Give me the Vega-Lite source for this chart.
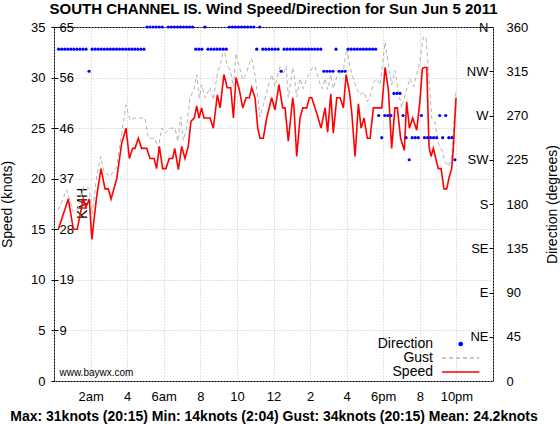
{
  "$schema": "https://vega.github.io/schema/vega-lite/v6.json",
  "width": 439,
  "height": 354,
  "autosize": {"type": "none"},
  "padding": {"left": 54, "top": 27, "right": 67, "bottom": 43},
  "background": "#ffffff",
  "title": {"text": "SOUTH CHANNEL IS. Wind Speed/Direction for Sun Jun 5 2011", "font": "Liberation Sans", "fontSize": 15, "fontWeight": "bold", "color": "#000000", "anchor": "middle", "frame": "group", "offset": 4},
  "config": {
    "view": {"stroke": "#000000", "strokeWidth": 1},
    "font": "Liberation Sans",
    "axis": {"domain": false, "labelFont": "Liberation Sans", "labelFontSize": 13, "labelColor": "#000000", "tickColor": "#000000", "titleFont": "Liberation Sans", "titleFontSize": 14, "titleFontWeight": "normal", "titleColor": "#000000", "gridColor": "#c4c4c4", "gridDash": [1, 2], "gridWidth": 1},
    "axisX": {"values": [1,2,3,4,5,6,7,8,9,10,11,12,13,14,15,16,17,18,19,20,21,22,23], "grid": true, "ticks": false, "labelPadding": 9, "labelFlush": false, "labelOverlap": false, "labelAngle": 0, "titleFontWeight": "bold", "titleFontSize": 14, "titlePadding": 6}
  },
  "datasets": {
    "speed": [
      {"h":0.24,"kt":15},{"h":0.78,"kt":18},{"h":1.06,"kt":15},{"h":1.27,"kt":15},{"h":1.6,"kt":18},{"h":1.75,"kt":17.2},{"h":1.93,"kt":18},{"h":2.07,"kt":14},{"h":2.33,"kt":18.2},{"h":2.57,"kt":21},{"h":2.79,"kt":19},{"h":2.97,"kt":19},{"h":3.12,"kt":18},{"h":3.43,"kt":20},{"h":3.7,"kt":23.5},{"h":3.94,"kt":25},{"h":4.12,"kt":22},{"h":4.3,"kt":23},{"h":4.43,"kt":23},{"h":4.61,"kt":24},{"h":4.79,"kt":23},{"h":5.07,"kt":23},{"h":5.25,"kt":22},{"h":5.47,"kt":22},{"h":5.61,"kt":21},{"h":5.76,"kt":23.2},{"h":5.94,"kt":21},{"h":6.12,"kt":21},{"h":6.3,"kt":22},{"h":6.49,"kt":22},{"h":6.6,"kt":23},{"h":6.8,"kt":20.9},{"h":6.98,"kt":23.2},{"h":7.16,"kt":22},{"h":7.34,"kt":23.2},{"h":7.49,"kt":25.7},{"h":7.67,"kt":26},{"h":7.8,"kt":27.2},{"h":7.93,"kt":26},{"h":8.07,"kt":27},{"h":8.2,"kt":26},{"h":8.53,"kt":26},{"h":8.71,"kt":25},{"h":8.93,"kt":28.3},{"h":9.08,"kt":27},{"h":9.29,"kt":30.3},{"h":9.47,"kt":29},{"h":9.66,"kt":29},{"h":9.81,"kt":26},{"h":9.95,"kt":30},{"h":10.13,"kt":28.8},{"h":10.32,"kt":27},{"h":10.5,"kt":28},{"h":10.68,"kt":28},{"h":10.81,"kt":29},{"h":10.99,"kt":28},{"h":11.14,"kt":25},{"h":11.26,"kt":24},{"h":11.44,"kt":24},{"h":11.63,"kt":26},{"h":11.9,"kt":28},{"h":12.08,"kt":26.8},{"h":12.3,"kt":29.3},{"h":12.5,"kt":27},{"h":12.63,"kt":27},{"h":12.81,"kt":23.7},{"h":13.05,"kt":28},{"h":13.12,"kt":27},{"h":13.27,"kt":22.2},{"h":13.45,"kt":26},{"h":13.6,"kt":27},{"h":13.82,"kt":27},{"h":13.96,"kt":28},{"h":14.09,"kt":28},{"h":14.36,"kt":26.5},{"h":14.6,"kt":25},{"h":14.82,"kt":27},{"h":14.96,"kt":24.6},{"h":15.13,"kt":28.4},{"h":15.27,"kt":24.5},{"h":15.46,"kt":28},{"h":15.64,"kt":28},{"h":15.82,"kt":27},{"h":15.97,"kt":30.3},{"h":16.15,"kt":28.6},{"h":16.28,"kt":26.5},{"h":16.46,"kt":22.2},{"h":16.64,"kt":27.4},{"h":16.79,"kt":25},{"h":16.95,"kt":26},{"h":17.13,"kt":24},{"h":17.28,"kt":24},{"h":17.46,"kt":27},{"h":17.92,"kt":27},{"h":18.1,"kt":31},{"h":18.28,"kt":28.8},{"h":18.46,"kt":23},{"h":18.64,"kt":27},{"h":18.77,"kt":27},{"h":18.95,"kt":24},{"h":19.15,"kt":22.8},{"h":19.28,"kt":27.6},{"h":19.43,"kt":25},{"h":19.61,"kt":26},{"h":19.83,"kt":24.8},{"h":20.01,"kt":27.8},{"h":20.14,"kt":30.9},{"h":20.25,"kt":31},{"h":20.38,"kt":31},{"h":20.5,"kt":23.2},{"h":20.61,"kt":22.2},{"h":20.74,"kt":23},{"h":20.87,"kt":22},{"h":21.01,"kt":21},{"h":21.16,"kt":21},{"h":21.32,"kt":19},{"h":21.47,"kt":19},{"h":21.61,"kt":20.2},{"h":21.74,"kt":21},{"h":21.83,"kt":23},{"h":21.98,"kt":28}
    ],
    "gust": [
      {"h":0.24,"kt":16.9},{"h":0.69,"kt":18.9},{"h":1.06,"kt":16.7},{"h":1.33,"kt":17.1},{"h":1.6,"kt":19.2},{"h":1.82,"kt":19.2},{"h":1.93,"kt":19},{"h":2.09,"kt":16.5},{"h":2.33,"kt":20.2},{"h":2.55,"kt":22.2},{"h":2.73,"kt":20.7},{"h":3.06,"kt":20.2},{"h":3.43,"kt":21.2},{"h":3.7,"kt":24.5},{"h":3.94,"kt":27.3},{"h":4.16,"kt":25.8},{"h":4.43,"kt":26},{"h":4.98,"kt":26},{"h":5.16,"kt":24},{"h":5.52,"kt":24},{"h":5.7,"kt":23},{"h":5.89,"kt":25},{"h":6.07,"kt":24.5},{"h":6.34,"kt":25},{"h":6.62,"kt":25},{"h":6.76,"kt":23.7},{"h":6.93,"kt":26.1},{"h":7.07,"kt":23.8},{"h":7.25,"kt":25},{"h":7.43,"kt":28},{"h":7.65,"kt":28.8},{"h":7.8,"kt":30.3},{"h":7.95,"kt":28},{"h":8.07,"kt":29.3},{"h":8.26,"kt":28},{"h":8.53,"kt":29},{"h":8.71,"kt":27.8},{"h":8.93,"kt":30.4},{"h":9.11,"kt":31.4},{"h":9.29,"kt":32.9},{"h":9.47,"kt":31.2},{"h":9.66,"kt":30.6},{"h":9.81,"kt":29.1},{"h":9.95,"kt":32.4},{"h":10.13,"kt":31.1},{"h":10.32,"kt":29.8},{"h":10.5,"kt":30.3},{"h":10.68,"kt":31.4},{"h":10.81,"kt":31.9},{"h":10.99,"kt":30.3},{"h":11.14,"kt":28},{"h":11.26,"kt":26.1},{"h":11.44,"kt":27.3},{"h":11.63,"kt":28.6},{"h":11.9,"kt":30.3},{"h":12.08,"kt":29.1},{"h":12.36,"kt":31.1},{"h":12.54,"kt":30.3},{"h":12.69,"kt":31.1},{"h":12.81,"kt":28},{"h":13.05,"kt":31},{"h":13.12,"kt":30.3},{"h":13.27,"kt":28.1},{"h":13.45,"kt":29.9},{"h":13.63,"kt":28.9},{"h":13.82,"kt":29.9},{"h":14.09,"kt":30.9},{"h":14.27,"kt":31.1},{"h":14.45,"kt":29.9},{"h":14.64,"kt":28.9},{"h":14.82,"kt":29.9},{"h":14.96,"kt":28.8},{"h":15.13,"kt":30.3},{"h":15.27,"kt":28.9},{"h":15.46,"kt":30.1},{"h":15.64,"kt":30.4},{"h":15.82,"kt":30.7},{"h":16,"kt":32.9},{"h":16.18,"kt":31.1},{"h":16.36,"kt":29.9},{"h":16.55,"kt":28.9},{"h":16.73,"kt":28.3},{"h":16.95,"kt":28.6},{"h":17.13,"kt":27.6},{"h":17.31,"kt":28.3},{"h":17.46,"kt":29.5},{"h":17.64,"kt":29.9},{"h":17.83,"kt":29.3},{"h":18.1,"kt":33.5},{"h":18.28,"kt":31.4},{"h":18.46,"kt":29.3},{"h":18.64,"kt":30.7},{"h":18.83,"kt":28.6},{"h":19.01,"kt":27},{"h":19.19,"kt":28.3},{"h":19.32,"kt":29.1},{"h":19.46,"kt":29.9},{"h":19.65,"kt":29.1},{"h":19.83,"kt":30.3},{"h":20.01,"kt":31.7},{"h":20.19,"kt":34},{"h":20.34,"kt":34},{"h":20.47,"kt":30.7},{"h":20.65,"kt":26},{"h":20.83,"kt":25.6},{"h":21.01,"kt":23.5},{"h":21.2,"kt":22.8},{"h":21.38,"kt":21.7},{"h":21.56,"kt":21.2},{"h":21.74,"kt":22.2},{"h":21.98,"kt":28.8}
    ],
    "dir": [
      {"h":0.25,"d":337.5},{"h":0.417,"d":337.5},{"h":0.583,"d":337.5},{"h":0.75,"d":337.5},{"h":0.917,"d":337.5},{"h":1.083,"d":337.5},{"h":1.25,"d":337.5},{"h":1.417,"d":337.5},{"h":1.583,"d":337.5},{"h":1.75,"d":337.5},{"h":1.917,"d":315},{"h":2.083,"d":337.5},{"h":2.25,"d":337.5},{"h":2.417,"d":337.5},{"h":2.583,"d":337.5},{"h":2.75,"d":337.5},{"h":2.917,"d":337.5},{"h":3.083,"d":337.5},{"h":3.25,"d":337.5},{"h":3.417,"d":337.5},{"h":3.583,"d":337.5},{"h":3.75,"d":337.5},{"h":3.917,"d":337.5},{"h":4.083,"d":337.5},{"h":4.25,"d":337.5},{"h":4.417,"d":337.5},{"h":4.583,"d":337.5},{"h":4.75,"d":337.5},{"h":4.917,"d":337.5},
      {"h":5.083,"d":360},{"h":5.25,"d":360},{"h":5.417,"d":360},{"h":5.583,"d":360},{"h":5.75,"d":360},{"h":5.917,"d":360},{"h":6.25,"d":360},{"h":6.417,"d":360},{"h":6.583,"d":360},{"h":6.75,"d":360},{"h":6.917,"d":360},{"h":7.083,"d":360},{"h":7.25,"d":360},{"h":7.417,"d":360},{"h":7.583,"d":360},
      {"h":7.75,"d":337.5},{"h":7.917,"d":337.5},{"h":8.083,"d":337.5},{"h":8.25,"d":360},{"h":8.417,"d":337.5},{"h":8.583,"d":337.5},{"h":8.75,"d":337.5},{"h":8.917,"d":337.5},{"h":9.083,"d":337.5},{"h":9.25,"d":337.5},{"h":9.417,"d":337.5},
      {"h":9.583,"d":360},{"h":9.75,"d":360},{"h":9.917,"d":360},{"h":10.083,"d":360},{"h":10.25,"d":360},{"h":10.417,"d":360},{"h":10.583,"d":360},{"h":10.75,"d":360},{"h":10.917,"d":360},
      {"h":11.083,"d":337.5},{"h":11.25,"d":360},{"h":11.417,"d":337.5},{"h":11.583,"d":337.5},{"h":11.75,"d":337.5},{"h":11.917,"d":337.5},{"h":12.083,"d":337.5},{"h":12.25,"d":337.5},{"h":12.417,"d":315},
      {"h":12.583,"d":337.5},{"h":12.75,"d":337.5},{"h":12.917,"d":337.5},{"h":13.083,"d":337.5},{"h":13.25,"d":337.5},{"h":13.417,"d":337.5},{"h":13.583,"d":337.5},{"h":13.75,"d":337.5},{"h":13.917,"d":337.5},{"h":14.083,"d":337.5},{"h":14.25,"d":337.5},{"h":14.417,"d":337.5},{"h":14.583,"d":337.5},
      {"h":14.75,"d":315},{"h":14.917,"d":315},{"h":15.083,"d":315},{"h":15.25,"d":315},{"h":15.417,"d":337.5},{"h":15.583,"d":315},{"h":15.75,"d":315},{"h":15.917,"d":315},
      {"h":16.083,"d":337.5},{"h":16.25,"d":337.5},{"h":16.417,"d":337.5},{"h":16.583,"d":337.5},{"h":16.75,"d":337.5},{"h":16.917,"d":337.5},{"h":17.083,"d":337.5},{"h":17.25,"d":337.5},{"h":17.417,"d":337.5},{"h":17.583,"d":337.5},
      {"h":17.75,"d":270},{"h":17.917,"d":247.5},{"h":18.083,"d":270},{"h":18.25,"d":270},{"h":18.417,"d":270},{"h":18.583,"d":292.5},{"h":18.75,"d":292.5},{"h":18.917,"d":292.5},{"h":19.083,"d":270},{"h":19.25,"d":247.5},{"h":19.417,"d":225},{"h":19.583,"d":247.5},{"h":19.75,"d":247.5},{"h":19.917,"d":247.5},{"h":20.083,"d":270},{"h":20.25,"d":247.5},{"h":20.417,"d":247.5},{"h":20.583,"d":247.5},{"h":20.75,"d":247.5},{"h":20.917,"d":247.5},{"h":21.083,"d":270},{"h":21.25,"d":247.5},{"h":21.417,"d":270},{"h":21.583,"d":247.5},{"h":21.75,"d":247.5},{"h":21.917,"d":225}
    ],
    "note": [{"label": "www.baywx.com"}]
  },
  "layer": [
    {
      "data": {"name": "gust"},
      "mark": {"type": "line", "strokeWidth": 1, "strokeDash": [4, 3]},
      "encoding": {
        "x": {"field": "h", "type": "quantitative", "scale": {"domain": [0, 24], "nice": false, "zero": false},
          "axis": {"labelExpr": "['','','2am','','4','','6am','','8','','10','','12','','2','','4','','6pm','','8','','10pm','',''][round(datum.value)]",
            "title": "Max: 31knots (20:15) Min: 14knots (2:04) Gust: 34knots (20:15) Mean: 24.2knots"}},
        "y": {"field": "kt", "type": "quantitative", "scale": {"domain": [0, 35], "nice": false, "zero": true},
          "axis": {"orient": "right", "offset": -439, "values": [5,10,15,20,25,30,35],
            "labelExpr": "''+round(datum.value*1.852)", "tickSize": 4, "labelPadding": 1, "labelAlign": "left",
            "grid": false, "title": "KMH", "titleAngle": 270, "titleX": 28, "titleY": 176,
            "titleAlign": "center", "titleBaseline": "middle", "titleFontSize": 14}},
        "color": {"datum": "Gust", "type": "nominal",
          "scale": {"domain": ["Direction", "Gust", "Speed"], "range": ["#0000ff", "#b4b4b4", "#ff0000"]},
          "legend": {"orient": "none", "legendX": 388, "legendY": 310, "title": null, "padding": 0, "offset": 0,
            "symbolType": "stroke", "symbolSize": 1400, "symbolStrokeWidth": 1.5,
            "labelFontSize": 14, "labelFont": "Liberation Sans", "labelColor": "#000000",
            "rowPadding": -2,
            "encode": {
              "symbols": {"update": {
                "x": {"value": 18.7}, "y": {"value": 7},
                "shape": {"signal": "datum.value=='Direction' ? 'circle' : 'stroke'"},
                "size": {"signal": "datum.value=='Direction' ? 10 : 1400"},
                "fill": {"signal": "datum.value=='Direction' ? '#0000ff' : 'transparent'"},
                "stroke": {"signal": "datum.value=='Direction' ? 'transparent' : (datum.value=='Gust' ? '#b4b4b4' : '#ff0000')"},
                "strokeWidth": {"value": 1.5},
                "strokeDash": {"signal": "datum.value=='Gust' ? [4,3] : [1,0]"},
                "opacity": {"value": 1}
              }},
              "labels": {"update": {
                "x": {"value": -9}, "y": {"value": 7},
                "align": {"value": "right"}, "baseline": {"value": "middle"}
              }}
            }}}
      }
    },
    {
      "data": {"name": "speed"},
      "mark": {"type": "line", "strokeWidth": 1.6},
      "encoding": {
        "x": {"field": "h", "type": "quantitative", "scale": {"domain": [0, 24], "nice": false, "zero": false},
          "axis": {"labelExpr": "['','','2am','','4','','6am','','8','','10','','12','','2','','4','','6pm','','8','','10pm','',''][round(datum.value)]",
            "title": "Max: 31knots (20:15) Min: 14knots (2:04) Gust: 34knots (20:15) Mean: 24.2knots"}},
        "y": {"field": "kt", "type": "quantitative", "scale": {"domain": [0, 35], "nice": false, "zero": true},
          "axis": {"orient": "left", "values": [0,5,10,15,20,25,30,35], "grid": true, "tickSize": 3, "labelPadding": 6,
            "title": "Speed (knots)", "titleAngle": 270, "titleX": -47, "titleY": 177, "titleAlign": "center", "titleBaseline": "middle", "titleFontSize": 14}},
        "color": {"datum": "Speed", "type": "nominal",
          "scale": {"domain": ["Direction", "Gust", "Speed"], "range": ["#0000ff", "#b4b4b4", "#ff0000"]}}
      }
    },
    {
      "data": {"name": "dir"},
      "mark": {"type": "point", "filled": true, "size": 10, "opacity": 1},
      "encoding": {
        "x": {"field": "h", "type": "quantitative", "scale": {"domain": [0, 24], "nice": false, "zero": false},
          "axis": {"labelExpr": "['','','2am','','4','','6am','','8','','10','','12','','2','','4','','6pm','','8','','10pm','',''][round(datum.value)]",
            "title": "Max: 31knots (20:15) Min: 14knots (2:04) Gust: 34knots (20:15) Mean: 24.2knots"}},
        "y": {"field": "d", "type": "quantitative", "scale": {"domain": [0, 360], "nice": false, "zero": true},
          "axis": {"orient": "right", "values": [0,45,90,135,180,225,270,315,360], "ticks": false, "labelPadding": 13, "grid": false,
            "title": "Direction (degrees)", "titleAngle": 270, "titleX": 59, "titleY": 177, "titleAlign": "center", "titleBaseline": "middle", "titleFontSize": 14}},
        "color": {"datum": "Direction", "type": "nominal",
          "scale": {"domain": ["Direction", "Gust", "Speed"], "range": ["#0000ff", "#b4b4b4", "#ff0000"]}}
      }
    },
    {
      "data": {"name": "dir"},
      "mark": {"type": "point", "opacity": 0},
      "encoding": {
        "x": {"field": "h", "type": "quantitative", "scale": {"domain": [0, 24], "nice": false, "zero": false},
          "axis": {"labelExpr": "['','','2am','','4','','6am','','8','','10','','12','','2','','4','','6pm','','8','','10pm','',''][round(datum.value)]",
            "title": "Max: 31knots (20:15) Min: 14knots (2:04) Gust: 34knots (20:15) Mean: 24.2knots"}},
        "y": {"field": "d", "type": "quantitative", "scale": {"domain": [0, 360], "nice": false, "zero": true},
          "axis": {"orient": "left", "offset": -439, "values": [45,90,135,180,225,270,315,360],
            "labelExpr": "datum.value==45?'NE':datum.value==90?'E':datum.value==135?'SE':datum.value==180?'S':datum.value==225?'SW':datum.value==270?'W':datum.value==315?'NW':'N'",
            "tickSize": 4, "labelPadding": 1, "grid": false, "title": null}}
      }
    },
    {
      "data": {"name": "note"},
      "mark": {"type": "text", "align": "left", "baseline": "middle", "fontSize": 10, "font": "Liberation Sans", "color": "#000000"},
      "encoding": {
        "x": {"datum": 0.3, "type": "quantitative", "scale": {"domain": [0, 24], "nice": false, "zero": false},
          "axis": {"labelExpr": "['','','2am','','4','','6am','','8','','10','','12','','2','','4','','6pm','','8','','10pm','',''][round(datum.value)]",
            "title": "Max: 31knots (20:15) Min: 14knots (2:04) Gust: 34knots (20:15) Mean: 24.2knots"}},
        "y": {"datum": 0.8, "type": "quantitative", "scale": {"domain": [0, 35], "nice": false, "zero": true}, "axis": null},
        "text": {"field": "label"}
      }
    }
  ],
  "resolve": {"scale": {"y": "independent"}}
}
